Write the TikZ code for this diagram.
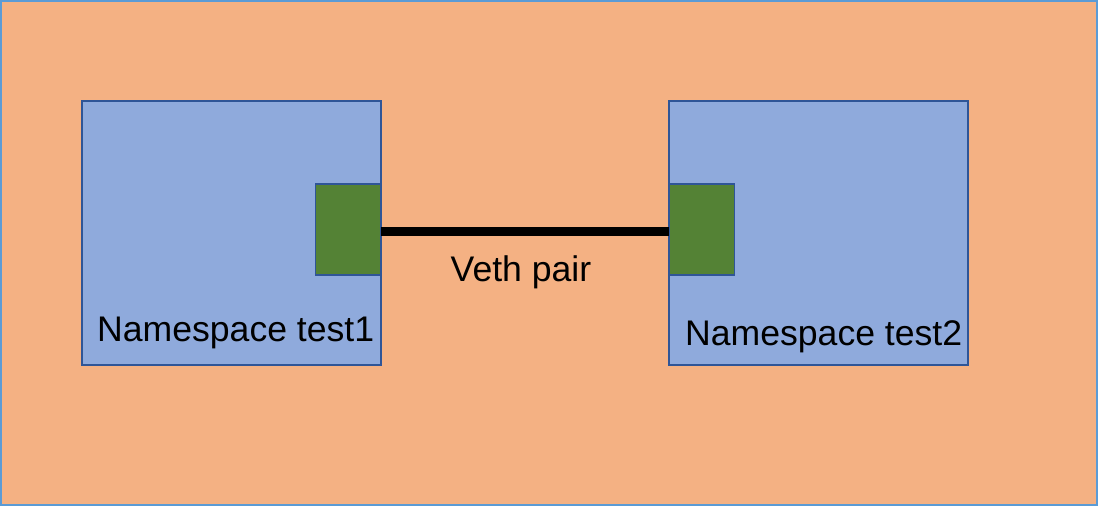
\documentclass[tikz,border=0pt]{standalone}
\usepackage{fontspec}
\setmainfont{Liberation Sans}
\definecolor{bgorange}{HTML}{F4B183}
\definecolor{outerblue}{HTML}{5B9BD5}
\definecolor{nsfill}{HTML}{8FAADC}
\definecolor{nsdraw}{HTML}{2F5597}
\definecolor{ifgreen}{HTML}{548235}
\begin{document}
\begin{tikzpicture}[x=1pt,y=-1pt,
  nsbox/.style={draw=nsdraw,fill=nsfill,line width=1.5pt},
  ifbox/.style={draw=nsdraw,fill=ifgreen,line width=1.5pt},
  lbl/.style={font=\fontsize{35.6}{40}\selectfont,inner sep=0pt,anchor=west}]
\useasboundingbox (0,0) rectangle (1098,506);
\draw[fill=bgorange,draw=outerblue,line width=2pt] (1,1) rectangle (1097,505);
\draw[nsbox] (82,101) rectangle (381,365);
\draw[nsbox] (669,101) rectangle (968,365);
\draw[ifbox] (315.5,184) rectangle (381,275);
\draw[ifbox] (669,184) rectangle (734.5,275);
\coordinate (ifL) at (381,231.5);
\coordinate (ifR) at (669,231.5);
\node[inner sep=0pt,minimum size=0pt] (a) at (ifL) {};
\node[inner sep=0pt,minimum size=0pt] (b) at (ifR) {};
\draw[line width=9pt] (a) -- (b);
\node[lbl,anchor=center] (veth) at (521,272) {Veth pair};
\node[lbl] (ns1) at (97,333) {Namespace test1};
\node[lbl] (ns2) at (685,337) {Namespace test2};
\end{tikzpicture}
\end{document}
